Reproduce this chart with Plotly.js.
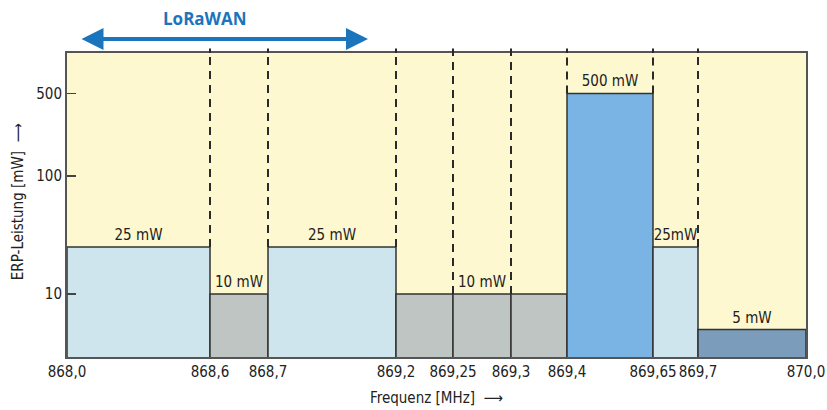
<!DOCTYPE html>
<html>
<head>
<meta charset="utf-8">
<script src="https://cdn.plot.ly/plotly-3.0.1.min.js"></script>
<style>html,body{margin:0;padding:0;background:#fff;}#chart{width:827px;height:410px;}</style>
</head>
<body>
<div id="chart"></div>
<script>
// Frequency edges (tick labels) and their schematic positions on the (non-linear) drawing axis
var freqLabels = ['868,0','868,6','868,7','869,2','869,25','869,3','869,4','869,65','869,7','870,0'];
var edgePos    = [0, 143, 201, 329, 386, 444, 500, 586, 631, 739];
// ERP power of each sub-band (mW)
var powerMW    = [25, 10, 25, 10, 10, 10, 500, 25, 5];
var powerText  = ['25 mW','10 mW','25 mW','','10 mW','','500 mW','25mW','5 mW'];
var bandColors = ['#cfe5ee','#bfc5c2','#cfe5ee','#bfc5c2','#bfc5c2','#bfc5c2','#7ab4e4','#cfe5ee','#7b9dbb'];
var yTicks     = [10, 100, 500];

var FONT = 'Liberation Sans Narrow, DejaVu Sans Condensed, Arial Narrow, sans-serif';
var yRange = [0.466, 3.042];
var yTopVal = Math.pow(10, yRange[1]);

var mids = [], widths = [];
for (var i = 0; i < powerMW.length; i++) {
  mids.push((edgePos[i] + edgePos[i+1]) / 2);
  widths.push(edgePos[i+1] - edgePos[i]);
}

var traces = [{
  type: 'bar',
  x: mids,
  y: powerMW,
  width: widths,
  marker: {color: bandColors, line: {color: '#333', width: 1.5}},
  text: powerText,
  textposition: 'outside',
  constraintext: 'none',
  cliponaxis: false,
  textfont: {family: FONT, size: 15, color: '#222'},
  hoverinfo: 'skip',
  showlegend: false
}];

var shapes = [];
for (var j = 1; j < edgePos.length - 1; j++) {
  var lo = Math.max(powerMW[j-1], powerMW[j]);
  traces.push({
    type: 'scatter', mode: 'lines',
    x: [edgePos[j], edgePos[j]],
    y: [lo, yTopVal],
    line: {color: '#2a2a2a', width: 2, dash: '8px,6px'},
    hoverinfo: 'skip', showlegend: false
  });
  shapes.push({type: 'line', xref: 'x', yref: 'paper', x0: edgePos[j], x1: edgePos[j], y0: 1, y1: 1.015,
               line: {color: '#2a2a2a', width: 2}});
}

var layout = {
  width: 827, height: 410,
  margin: {l: 67, r: 21, t: 53, b: 53},
  paper_bgcolor: '#ffffff',
  plot_bgcolor: '#fdf8cf',
  showlegend: false,
  xaxis: {
    range: [edgePos[0], edgePos[edgePos.length-1]],
    tickmode: 'array', tickvals: edgePos, ticktext: freqLabels,
    ticks: '', showgrid: false, zeroline: false,
    showline: true, linecolor: '#555', linewidth: 2, mirror: true,
    tickfont: {family: FONT, size: 15, color: '#222'},
    title: {text: 'Frequenz [MHz]  \u27F6', font: {family: FONT, size: 15, color: '#222'}, standoff: 12}
  },
  yaxis: {
    type: 'log', range: yRange,
    tickmode: 'array', tickvals: yTicks, ticktext: yTicks.map(String),
    ticks: 'inside', ticklen: 9, tickwidth: 1.5, tickcolor: '#444',
    showgrid: false, zeroline: false,
    showline: true, linecolor: '#555', linewidth: 2, mirror: true,
    tickfont: {family: FONT, size: 15, color: '#222'}
  },
  shapes: shapes,
  annotations: [
    {xref: 'x', yref: 'paper', axref: 'x', ayref: 'paper',
     x: 301, y: 1.046, ax: 13, ay: 1.046,
     text: '', showarrow: true, arrowhead: 2, arrowside: 'end+start',
     arrowsize: 1.1, arrowwidth: 4, arrowcolor: '#1b75bc', standoff: 0, startstandoff: 0},
    {xref: 'paper', yref: 'paper', x: 0.187, y: 1.112, xanchor: 'center', yanchor: 'middle',
     text: '<b>LoRaWAN</b>', showarrow: false,
     font: {family: 'Open Sans, Noto Sans, sans-serif', size: 17, color: '#1b75bc'}},
    {xref: 'paper', yref: 'paper', x: -0.066, y: 0.51, xanchor: 'center', yanchor: 'middle',
     text: 'ERP-Leistung [mW]  \u27F6', textangle: -90, showarrow: false,
     font: {family: FONT, size: 15, color: '#222'}}
  ]
};

Plotly.newPlot('chart', traces, layout, {staticPlot: true, displayModeBar: false});
</script>
</body>
</html>
